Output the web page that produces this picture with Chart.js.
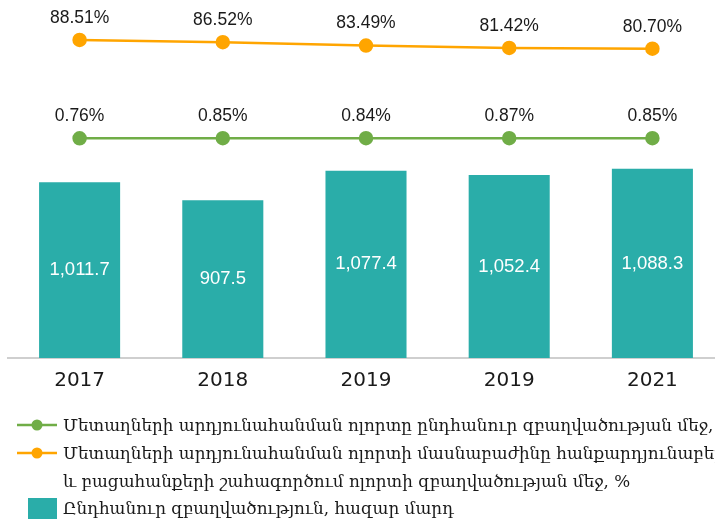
<!DOCTYPE html>
<html>
<head>
<meta charset="utf-8">
<script src="https://cdn.jsdelivr.net/npm/chart.js@4.4.1/dist/chart.umd.min.js"></script>
<style>
  html, body { margin: 0; padding: 0; background: #fff; width: 715px; height: 525px; overflow: hidden; }
  #wrap { position: absolute; left: 0; top: 0; width: 740px; height: 404px; }
  #c { width: 740px; height: 404px; display: block; }
  .leg { position: absolute; font-family: "DejaVu Serif", serif; font-size: 16.8px; color: #1a1a1a; white-space: nowrap; line-height: 20px; }
  .mk { position: absolute; }
</style>
</head>
<body>
<div id="wrap"><canvas id="c" width="740" height="404"></canvas></div>

<svg class="mk" style="left:0;top:0" width="70" height="525">
  <line x1="17" y1="425" x2="57" y2="425" stroke="#70AD47" stroke-width="2.5"/>
  <circle cx="37" cy="425" r="5.5" fill="#70AD47"/>
  <line x1="17" y1="453" x2="57" y2="453" stroke="#FFA500" stroke-width="2.5"/>
  <circle cx="37" cy="453" r="5.5" fill="#FFA500"/>
  <rect x="28" y="498" width="29" height="21" fill="#2AADA9"/>
</svg>
<div class="leg" id="l1" style="left:63px;top:415px"></div>
<div class="leg" id="l2" style="left:63px;top:443px"></div>
<div class="leg" id="l3" style="left:63px;top:471px"></div>
<div class="leg" id="l4" style="left:63px;top:498px"></div>

<script>
const categories = ["2017", "2018", "2019", "2019", "2021"];
const employmentTotal = [1011.7, 907.5, 1077.4, 1052.4, 1088.3];          // thousand people
const metalShareOfMining = [88.51, 86.52, 83.49, 81.42, 80.70];           // %
const metalShareOfTotal = [0.76, 0.85, 0.84, 0.87, 0.85];                 // %
const legendGreen = "Մետաղների արդյունահանման ոլորտը ընդհանուր զբաղվածության մեջ, %";
const legendOrangeLine1 = "Մետաղների արդյունահանման ոլորտի մասնաբաժինը հանքարդյունաբերության";
const legendOrangeLine2 = "և բացահանքերի շահագործում ոլորտի զբաղվածության մեջ, %";
const legendBars = "Ընդհանուր զբաղվածություն, հազար մարդ";

document.getElementById('l1').textContent = legendGreen;
document.getElementById('l2').textContent = legendOrangeLine1;
document.getElementById('l3').textContent = legendOrangeLine2;
document.getElementById('l4').textContent = legendBars;

const fmtBar = v => v.toLocaleString('en-US', {minimumFractionDigits: 1, maximumFractionDigits: 1});
const fmtPct = v => v.toFixed(2) + '%';

const labelPlugin = {
  id: 'labels',
  afterDatasetsDraw(chart) {
    const ctx = chart.ctx;
    ctx.save();
    ctx.textAlign = 'center';
    ctx.textBaseline = 'middle';
    chart.data.datasets.forEach((ds, i) => {
      const meta = chart.getDatasetMeta(i);
      meta.data.forEach((el, j) => {
        const v = ds.data[j];
        if (ds.type === 'bar') {
          ctx.font = '18.5px "Liberation Sans", sans-serif';
          ctx.fillStyle = '#ffffff';
          ctx.fillText(fmtBar(v), el.x, (el.y + el.base) / 2);
        } else {
          ctx.font = '17.5px "Liberation Sans", sans-serif';
          ctx.fillStyle = '#1a1a1a';
          ctx.fillText(fmtPct(v), el.x, el.y - 22);
        }
      });
    });
    ctx.restore();
  }
};

new Chart(document.getElementById('c'), {
  data: {
    labels: categories,
    datasets: [
      { type: 'line', label: legendOrangeLine1 + ' ' + legendOrangeLine2, data: metalShareOfMining, yAxisID: 'y2',
        borderColor: '#FFA500', backgroundColor: '#FFA500', borderWidth: 2.5, pointRadius: 6, pointHoverRadius: 6, order: 1, clip: false },
      { type: 'line', label: legendGreen, data: metalShareOfTotal, yAxisID: 'y2',
        borderColor: '#70AD47', backgroundColor: '#70AD47', borderWidth: 2.5, pointRadius: 6, pointHoverRadius: 6, order: 2, clip: false },
      { type: 'bar', label: legendBars, data: employmentTotal, yAxisID: 'y',
        backgroundColor: '#2AADA9', barPercentage: 0.566, categoryPercentage: 1.0, order: 3 }
    ]
  },
  options: {
    responsive: false,
    animation: false,
    layout: { autoPadding: false, padding: { left: 8, right: 16, top: 0, bottom: 0 } },
    plugins: { legend: { display: false }, tooltip: { enabled: false } },
    scales: {
      x: {
        grid: { display: false, drawTicks: false },
        border: { display: true, color: '#CFCFCF', width: 2 },
        ticks: { color: '#1a1a1a', font: { family: '"DejaVu Sans", sans-serif', size: 20 }, padding: 11 }
      },
      y: { display: false, min: 0, max: 2060 },
      y2: { display: false, min: -195.4, max: 124.2 }
    }
  },
  plugins: [labelPlugin]
});
</script>
</body>
</html>
